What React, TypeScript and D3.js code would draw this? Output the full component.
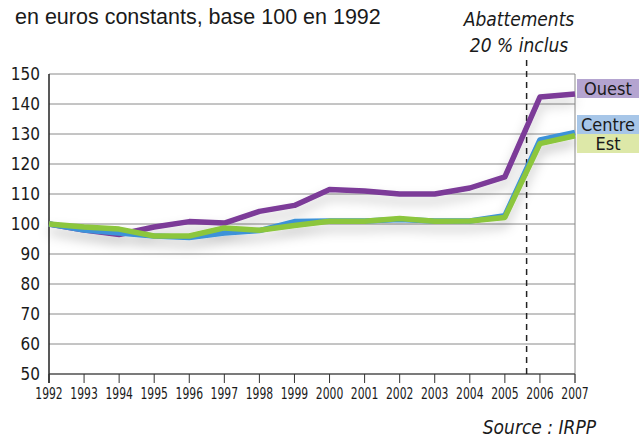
import React from "react";
import * as d3 from "d3";

const years = [1992, 1993, 1994, 1995, 1996, 1997, 1998, 1999, 2000, 2001, 2002, 2003, 2004, 2005, 2006, 2007];
const ouest = [100, 98, 96.5, 99, 100.8, 100.3, 104.2, 106.2, 111.5, 111, 110, 110, 112, 115.7, 142.3, 143.3];
const centre = [100, 98, 97, 96, 95.5, 97, 97.8, 100.8, 101, 101, 101.5, 101, 101, 102.8, 128, 130.5];
const est = [100, 99, 98.3, 96, 96, 98.7, 97.9, 99.5, 100.9, 100.9, 101.8, 100.9, 101, 102.2, 126.8, 129.4];
const yTicks = [50, 60, 70, 80, 90, 100, 110, 120, 130, 140, 150];
const markerYear = 2005.62;

const series = [
  { name: "Ouest", values: ouest, color: "#7b3b98", box: "#b4a4d0" },
  { name: "Centre", values: centre, color: "#3d92d8", box: "#a7c6e8" },
  { name: "Est", values: est, color: "#8cc63e", box: "#dde8a8" },
];

const W = 639;
const H = 439;
const x0 = 49, x1 = 575, yTop = 74, yBot = 374;
const NARROW = "'Liberation Sans Narrow', 'DejaVu Sans Condensed', sans-serif";

export default function App() {
  const x = d3.scaleLinear().domain([1992, 2007]).range([x0, x1]);
  const y = d3.scaleLinear().domain([50, 150]).range([yBot, yTop]);
  const line = d3.line<number>().x((_, i) => x(years[i])).y((v) => y(v));
  const drawOrder = [series[0], series[1], series[2]];
  const legendY: Record<string, [number, number]> = { Ouest: [79, 98], Centre: [115, 134], Est: [134, 153] };

  return (
    <svg width={W} height={H} style={{ position: "absolute", left: 0, top: 0, background: "#fff" }}>
      <defs>
        <filter id="sh" x="-10%" y="-30%" width="120%" height="160%">
          <feDropShadow dx="0" dy="7" stdDeviation="6" floodColor="#000" floodOpacity="0.22" />
        </filter>
      </defs>
      <rect width={W} height={H} fill="#fff" />
      <text x={15} y={24} fontFamily="'Liberation Sans', Arial, sans-serif" fontSize={21.5} fill="#1a1a1a">
        en euros constants, base 100 en 1992
      </text>
      <text x={519} y={26} textAnchor="middle" fontFamily={NARROW} fontStyle="italic" fontSize={19} fill="#1a1a1a">
        Abattements
      </text>
      <text x={519} y={52} textAnchor="middle" fontFamily={NARROW} fontStyle="italic" fontSize={19} fill="#1a1a1a">
        20 % inclus
      </text>
      {yTicks.map((t) => (
        <g key={t}>
          <line x1={x0} x2={x1} y1={y(t)} y2={y(t)} stroke="#8a8a8a" strokeWidth={1} />
          <text x={40} y={y(t) + 6} textAnchor="end" fontFamily={NARROW} fontSize={17} fill="#1a1a1a">
            {t}
          </text>
        </g>
      ))}
      <line x1={x1} x2={x1} y1={yTop} y2={yBot + 9} stroke="#8a8a8a" strokeWidth={1} />
      {years.map((yr) => (
        <g key={yr}>
          <line x1={x(yr)} x2={x(yr)} y1={yBot} y2={yBot + 9} stroke="#333" strokeWidth={1} />
          <text
            transform={`translate(${x(yr)},399) scale(0.8,1)`}
            textAnchor="middle"
            fontFamily={NARROW}
            fontSize={15}
            fill="#1a1a1a"
          >
            {yr}
          </text>
        </g>
      ))}
      <line x1={x0} x2={x0} y1={yTop} y2={yBot + 9} stroke="#222" strokeWidth={1.5} />
      <line x1={x0} x2={x1} y1={yBot} y2={yBot} stroke="#333" strokeWidth={1.2} />
      <line
        x1={x(markerYear)}
        x2={x(markerYear)}
        y1={60}
        y2={yBot}
        stroke="#222"
        strokeWidth={1.5}
        strokeDasharray="6,5"
      />
      <g filter="url(#sh)">
        {drawOrder.map((s) => (
          <path
            key={s.name}
            d={line(s.values) || ""}
            fill="none"
            stroke={s.color}
            strokeWidth={5.5}
            strokeLinejoin="round"
          />
        ))}
      </g>
      {series.map((s) => {
        const [a, b] = legendY[s.name];
        return (
          <g key={s.name}>
            <rect x={577} y={a} width={W - 577} height={b - a} fill={s.box} />
            <text
              x={608}
              y={(a + b) / 2 + 6}
              textAnchor="middle"
              fontFamily={NARROW}
              fontSize={18}
              fill="#1a1a1a"
            >
              {s.name}
            </text>
          </g>
        );
      })}
      <text x={596} y={434} textAnchor="end" fontFamily={NARROW} fontStyle="italic" fontSize={19} fill="#1a1a1a">
        Source : IRPP
      </text>
    </svg>
  );
}
